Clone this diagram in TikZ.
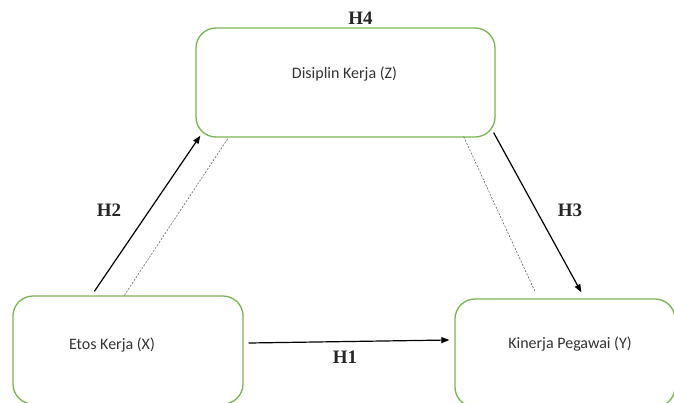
\documentclass[tikz,border=0pt]{standalone}
\usepackage{fontspec}
\setmainfont{Carlito}
\newfontfamily\hfont{Liberation Serif}
\usetikzlibrary{calc,arrows.meta}
\definecolor{boxgreen}{RGB}{120,180,80}
\tikzset{
  box/.style={draw=boxgreen, line width=1.3pt, rounded corners=20pt, fill=white, inner sep=0pt},
  lab/.style={font=\hfont\bfseries\fontsize{19}{21}\selectfont, text=black!85},
  txt/.style={font=\fontsize{16}{18}\selectfont, text=black!80},
  arr/.style={line width=1.2pt, -{Triangle[length=8pt,width=6pt]}},
  dsh/.style={dashed, dash pattern=on 2pt off 1.5pt, line width=0.5pt, black!70}
}
\begin{document}
\begin{tikzpicture}[x=1pt,y=-1pt]
\useasboundingbox (0,0) rectangle (674,402);
\clip (0,0) rectangle (674,402);
\node[box, minimum width=299pt, minimum height=109pt] (z) at (345.5,82.5) {};
\node[box, minimum width=230pt, minimum height=108pt] (x) at (128,350) {};
\node[box, minimum width=220pt, minimum height=108pt] (y) at (565,353) {};
\node[txt] (zt) at (344.5,74) {Disiplin Kerja (Z)};
\node[txt] (xt) at (112,345) {Etos Kerja (X)};
\node[txt] (yt) at (570,344) {Kinerja Pegawai (Y)};
\node[lab] (h4) at (360.5,18) {H4};
\node[lab] (h2) at (109,210) {H2};
\node[lab] (h3) at (570,210) {H3};
\node[lab] (h1) at (345,357) {H1};
% H2
\draw[arr] ($(x.north west)+(82,-4)$) -- ($(z.south west)+(5,-2)$);
\draw[dsh] ($(x.north west)+(112,0)$) -- ($(z.south west)+(33,0)$);
% H3
\draw[arr] ($(z.south east)+(-2,-5)$) -- ($(y.north west)+(127,-6)$);
\draw[dsh] ($(z.south east)+(-32,-1)$) -- ($(y.north west)+(81,-6)$);
% H1
\draw[arr] ($(x.east)+(5,-7)$) -- ($(y.west)+(-5,-13)$);
\end{tikzpicture}
\end{document}
